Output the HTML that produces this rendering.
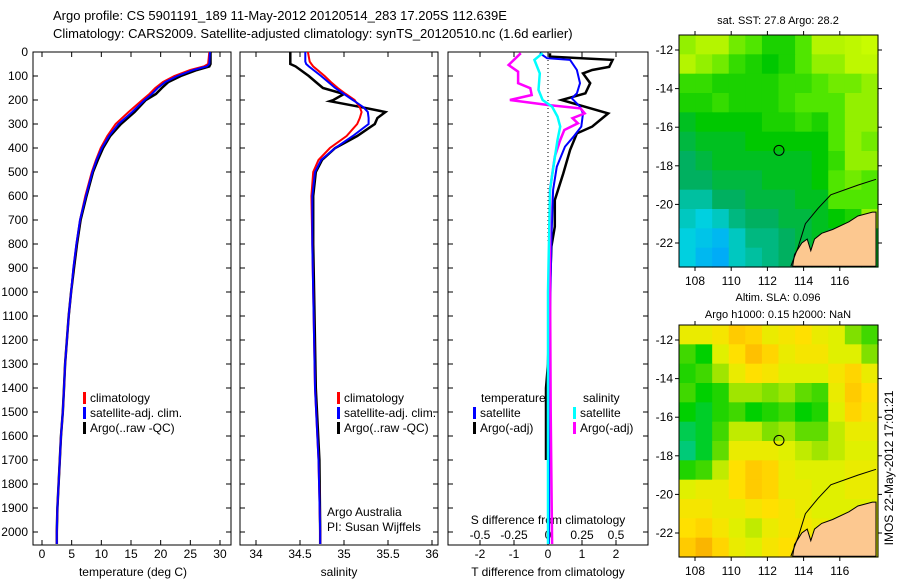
<!DOCTYPE html>
<html><head><meta charset="utf-8"><style>
body{margin:0;background:#fff;}
svg{display:block;font-family:"Liberation Sans",sans-serif;font-size:12px;}
</style></head><body>
<svg id="c" width="900" height="580" viewBox="0 0 900 580">
<text x="53" y="20" font-size="13">Argo profile: CS 5901191_189 11-May-2012 20120514_283 17.205S 112.639E</text>
<text x="53" y="38" font-size="13">Climatology: CARS2009. Satellite-adjusted climatology: synTS_20120510.nc (1.6d earlier)</text>
</svg>
<script>
// ---------- data ----------
const depthTicks=[0,100,200,300,400,500,600,700,800,900,1000,1100,1200,1300,1400,1500,1600,1700,1800,1900,2000];
const tempTicks=[0,5,10,15,20,25,30];
const salTicks=[34,34.5,35,35.5,36];
const tdTicks=[-2,-1,0,1,2];
const sdTickLabels=["-0.5","-0.25","0","0.25","0.5"];
const sdTicks=[-0.5,-0.25,0,0.25,0.5];
const zT=[0,50,60,75,100,125,150,175,200,250,300,350,400,450,500,600,700,800,900,1000,1100,1200,1300,1400,1500,1600,1700,1800,1900,2000,2050];
const tempClim=[28.2,28.0,27.3,25,22.3,20.4,19.1,18.1,16.9,14.6,12.4,11.0,9.9,9.1,8.4,7.3,6.4,5.8,5.3,4.9,4.5,4.2,3.9,3.7,3.5,3.2,3.0,2.8,2.6,2.5,2.5];
const tempSat=[28.3,28.2,27.8,25.5,22.8,20.8,19.5,18.5,17.3,15.2,12.9,11.3,10.1,9.2,8.5,7.4,6.4,5.8,5.3,4.9,4.5,4.2,3.9,3.7,3.5,3.2,3.0,2.8,2.6,2.5,2.5];
const tempArgo=[28.4,28.4,28.2,26.1,23.4,21.3,20.2,19.2,17.5,15.6,13.3,11.5,10.3,9.4,8.6,7.5,6.5,5.9,5.4,4.9,4.5,4.2,3.9,3.7,3.5,3.2,3.0,2.8,2.6,2.5,2.5];
const zS=[0,40,50,60,100,125,150,175,200,205,230,250,275,300,350,400,450,500,600,800,1000,1400,1700,2000,2050];
const salClim=[34.59,34.61,34.63,34.65,34.78,34.85,34.93,35.02,35.12,35.13,35.18,35.2,35.18,35.15,35.03,34.84,34.71,34.65,34.63,34.64,34.65,34.67,34.71,34.73,34.73];
const salSat=[34.56,34.56,34.57,34.6,34.74,34.82,34.9,35.0,35.1,35.12,35.22,35.27,35.28,35.28,35.1,34.9,34.74,34.67,34.64,34.64,34.65,34.67,34.71,34.73,34.73];
const salArgo=[34.39,34.39,34.39,34.45,34.6,34.68,34.76,35.0,34.88,34.84,35.2,35.47,35.38,35.35,35.15,34.9,34.75,34.68,34.65,34.65,34.66,34.68,34.72,34.73,34.73];
const zTdArgo=[5,19,33,62,75,89,130,172,200,214,256,311,339,408,506,617,728,811,1000,1300,1400,1700];
const tdArgo=[0.06,0.06,1.9,1.8,1.3,1.03,1.24,1.1,0.4,0.75,1.77,1.3,0.85,0.65,0.45,0.2,0.2,0.1,0.05,0.0,-0.06,-0.06];
const zTdSat=[5,26,33,75,130,172,193,228,256,311,353,394,478,575,783,1200,2050];
const tdSat=[-0.24,-0.03,0.65,0.85,0.94,0.85,0.7,0.94,1.03,0.98,0.75,0.5,0.26,0.15,0.1,0.05,0.03];
const zSdArgo=[5,54,82,130,151,179,200,221,235,256,276,297,325,367,436,575,922,1500,2050];
const sdArgo=[-0.2,-0.29,-0.22,-0.22,-0.13,-0.12,-0.28,0,0.24,0.27,0.18,0.22,0.12,0.09,0.05,0.015,0.015,0.02,0.03];
const zSdSat=[5,33,89,158,200,228,269,311,367,478,575,1000,2050];
const sdSat=[-0.04,-0.1,-0.06,-0.07,-0.04,0.03,0.07,0.09,0.07,0.04,0.015,0.0,0.0];
const sstGrid=[
[0.8,0.85,0.85,0.75,0.7,0.6,0.6,0.7,0.85,0.85,0.9,0.95],
[0.85,0.8,0.75,0.65,0.6,0.55,0.6,0.7,0.8,0.8,0.9,0.9],
[0.65,0.65,0.6,0.6,0.6,0.6,0.65,0.65,0.7,0.75,0.75,0.8],
[0.6,0.6,0.65,0.6,0.6,0.6,0.65,0.7,0.7,0.7,0.8,0.8],
[0.5,0.55,0.55,0.55,0.55,0.6,0.6,0.65,0.6,0.7,0.8,0.8],
[0.45,0.5,0.5,0.5,0.55,0.55,0.55,0.55,0.55,0.7,0.8,0.75],
[0.4,0.45,0.5,0.5,0.5,0.5,0.5,0.5,0.55,0.65,0.8,0.8],
[0.4,0.4,0.45,0.45,0.45,0.5,0.5,0.5,0.55,0.7,0.75,0.7],
[0.3,0.3,0.4,0.4,0.45,0.45,0.45,0.5,0.5,0.7,0.7,0.7],
[0.25,0.2,0.25,0.35,0.4,0.4,0.45,0.45,0.5,0.55,0.6,0.8],
[0.2,0.15,0.1,0.25,0.35,0.35,0.4,0.45,0.5,0.45,0.5,0.5],
[0.2,0.1,0.05,0.25,0.3,0.35,0.4,0.5,0.5,0.5,0.5,0.5]];
const slaGrid=[
[0.6,0.6,0.65,0.8,0.75,0.6,0.65,0.7,0.6,0.55,0.4,0.3],
[0.3,0.2,0.55,0.7,0.85,0.75,0.6,0.65,0.65,0.55,0.55,0.4],
[0.25,0.3,0.45,0.6,0.7,0.65,0.55,0.55,0.55,0.65,0.75,0.6],
[0.3,0.2,0.25,0.45,0.45,0.4,0.45,0.35,0.3,0.6,0.8,0.7],
[0.2,0.15,0.25,0.3,0.2,0.25,0.3,0.2,0.25,0.55,0.75,0.65],
[0.1,0.15,0.3,0.5,0.5,0.4,0.45,0.35,0.35,0.5,0.6,0.6],
[0.05,0.15,0.35,0.6,0.6,0.6,0.55,0.5,0.45,0.5,0.55,0.55],
[0.25,0.3,0.5,0.7,0.8,0.75,0.6,0.55,0.55,0.55,0.6,0.6],
[0.55,0.6,0.6,0.7,0.8,0.75,0.6,0.6,0.55,0.55,0.6,0.6],
[0.65,0.65,0.6,0.6,0.65,0.7,0.65,0.6,0.55,0.55,0.55,0.55],
[0.7,0.75,0.65,0.55,0.5,0.6,0.65,0.65,0.6,0.55,0.55,0.55],
[0.8,0.9,0.75,0.6,0.55,0.65,0.7,0.8,0.6,0.55,0.55,0.55]];
const lonTicks=[108,110,112,114,116];
const latTicks=[-12,-14,-16,-18,-20,-22];
const landLon=[113.4,113.5,113.9,114.2,114.4,114.6,115,115.6,116.5,117,117.8,118,118];
const landLat=[-23.2,-22.6,-22.0,-21.8,-22.4,-21.8,-21.5,-21.3,-20.9,-20.6,-20.4,-20.4,-23.2];
const shelfLon=[113.3,113.7,114.1,114.8,115.5,117,118];
const shelfLat=[-23.2,-22.2,-21.0,-20.2,-19.5,-19.0,-18.7];
const argoPos=[112.64,-17.2];

// ---------- helpers ----------
const NS="http://www.w3.org/2000/svg";
const svg=document.getElementById('c');
function mk(tag,attrs,parent){const e=document.createElementNS(NS,tag);for(const k in attrs)e.setAttribute(k,attrs[k]);(parent||svg).appendChild(e);return e;}
const Y0=52,PXM=0.24;
const yD=d=>Y0+d*PXM;
const xTemp=v=>42+v*5.933;
const xSal=v=>256+(v-34)*88;
const xTd=v=>548+v*34;
const xSd=v=>548+v*136;

function frame(x1,x2,name){
  const r=mk('rect',{x:x1,y:52,width:x2-x1,height:493,fill:'none',stroke:'#000','stroke-width':1});
  
  
}
function line(xs,zs,fx,color,w,name){
  const p=mk('polyline',{points:xs.map((v,i)=>fx(v).toFixed(1)+','+yD(zs[i]).toFixed(1)).join(' '),fill:'none',stroke:color,'stroke-width':w,'stroke-linejoin':'miter'});
  
  
}
function txt(x,y,s,name,anchor,size){
  const t=mk('text',{x:x,y:y,'text-anchor':anchor||'start'});
  if(size)t.setAttribute('font-size',size);
  t.textContent=s;
  
  
  return t;
}
function xticks(vals,fx,labels,ly,name){
  vals.forEach((v,i)=>{
    const x=fx(v);
    mk('line',{x1:x,x2:x,y1:52,y2:57,stroke:'#000'});
    mk('line',{x1:x,x2:x,y1:540,y2:545,stroke:'#000'});
    if(ly) txt(x,ly,labels[i],name,'middle');
  });
}

// ---------- panel 1: temperature ----------
frame(33,231,'temperature-panel');
depthTicks.forEach(d=>{
  mk('line',{x1:33,x2:38,y1:yD(d),y2:yD(d),stroke:'#000'});
  mk('line',{x1:226,x2:231,y1:yD(d),y2:yD(d),stroke:'#000'});
  txt(28,yD(d)+4,String(d),'depth-tick-label','end');
});
xticks(tempTicks,xTemp,tempTicks.map(String),558,'temperature-tick-label');
txt(133,576,'temperature (deg C)','temperature-axis-title','middle');
line(tempArgo,zT,xTemp,'#000',2.5,'temp-argo-line');
line(tempClim,zT,xTemp,'#f00',2,'temp-climatology-line');
line(tempSat,zT,xTemp,'#00f',2,'temp-satellite-line');

// ---------- panel 2: salinity ----------
frame(240,438,'salinity-panel');
depthTicks.forEach(d=>{
  mk('line',{x1:240,x2:245,y1:yD(d),y2:yD(d),stroke:'#000'});
  mk('line',{x1:433,x2:438,y1:yD(d),y2:yD(d),stroke:'#000'});
});
xticks(salTicks,xSal,salTicks.map(String),558,'salinity-tick-label');
txt(339,576,'salinity','salinity-axis-title','middle');
line(salArgo,zS,xSal,'#000',2.5,'sal-argo-line');
line(salClim,zS,xSal,'#f00',2,'sal-climatology-line');
line(salSat,zS,xSal,'#00f',2,'sal-satellite-line');
txt(327,516,'Argo Australia','institution-label');
txt(327,531,'PI: Susan Wijffels','pi-label');

// ---------- panel 3: differences ----------
frame(448,648,'difference-panel');
depthTicks.forEach(d=>{
  mk('line',{x1:448,x2:453,y1:yD(d),y2:yD(d),stroke:'#000'});
  mk('line',{x1:643,x2:648,y1:yD(d),y2:yD(d),stroke:'#000'});
});
xticks(tdTicks,xTd,tdTicks.map(String),558,'t-diff-tick-label');
sdTicks.forEach((v,i)=>txt(xSd(v),539,sdTickLabels[i],'s-diff-tick-label','middle'));
txt(548,524,'S difference from climatology','s-diff-axis-title','middle');
txt(548,576,'T difference from climatology','t-diff-axis-title','middle');
mk('line',{x1:548,x2:548,y1:52,y2:243,stroke:'#000','stroke-dasharray':'1,3'});
line(tdArgo,zTdArgo,xTd,'#000',2.5,'t-diff-argo-line');
line(tdSat,zTdSat,xTd,'#00f',2,'t-diff-satellite-line');
line(sdArgo,zSdArgo,xSd,'#f0f',2.5,'s-diff-argo-line');
line(sdSat,zSdSat,xSd,'#0ff',2.5,'s-diff-satellite-line');

// legends
function legend(x,y,color,label,name){
  mk('rect',{x:x,y:y-10,width:3,height:12,fill:color});
  txt(x+7,y,label,name);
}
legend(83,402,'#f00','climatology','legend-climatology-temp');
legend(83,417,'#00f','satellite-adj. clim.','legend-satellite-temp');
legend(83,432,'#000','Argo(..raw -QC)','legend-argo-temp');
legend(337,402,'#f00','climatology','legend-climatology-sal');
legend(337,417,'#00f','satellite-adj. clim.','legend-satellite-sal');
legend(337,432,'#000','Argo(..raw -QC)','legend-argo-sal');
txt(481,402,'temperature','legend-temperature-heading');
txt(583,402,'salinity','legend-salinity-heading');
legend(473,417,'#00f','satellite','legend-t-satellite');
legend(473,432,'#000','Argo(-adj)','legend-t-argo');
legend(573,417,'#0ff','satellite','legend-s-satellite');
legend(573,432,'#f0f','Argo(-adj)','legend-s-argo');

// ---------- maps ----------
const sstStops=[[0,[0,160,255]],[0.2,[0,208,224]],[0.4,[0,176,96]],[0.55,[0,200,0]],[0.7,[80,230,0]],[0.85,[180,245,0]],[1,[210,255,0]]];
const slaStops=[[0,[0,200,160]],[0.2,[0,208,0]],[0.4,[128,224,0]],[0.55,[224,240,0]],[0.7,[255,224,0]],[0.85,[255,192,0]],[1,[240,160,0]]];
function cmap(stops,v){
  for(let i=1;i<stops.length;i++){if(v<=stops[i][0]){const a=stops[i-1],b=stops[i];const t=(v-a[0])/(b[0]-a[0]);
    return 'rgb('+a[1].map((c,k)=>Math.round(c+(b[1][k]-c)*t)).join(',')+')';}}
  return 'rgb('+stops[stops.length-1][1].join(',')+')';
}
function drawMap(top,grid,stops,name){
  const L=679,R=878,T=top,B=top+232;
  const lonX=lo=>695+(lo-108)*18.1;
  const latY=la=>T+15+(-12-la)*19.3;
  const cw=(R-L)/grid[0].length,ch=(B-T)/grid.length;
  grid.forEach((row,r)=>row.forEach((v,c)=>{
    const cell=mk('rect',{x:(L+c*cw).toFixed(2),y:(T+r*ch).toFixed(2),width:(cw+0.6).toFixed(2),height:(ch+0.6).toFixed(2),fill:cmap(stops,v)});
    
    
  }));
  const land=mk('polygon',{points:landLon.map((lo,i)=>lonX(lo).toFixed(1)+','+latY(landLat[i]).toFixed(1)).join(' '),fill:'#fcc890',stroke:'#000','stroke-width':1});
  
  
  const sh=mk('polyline',{points:shelfLon.map((lo,i)=>lonX(lo).toFixed(1)+','+latY(shelfLat[i]).toFixed(1)).join(' '),fill:'none',stroke:'#000','stroke-width':1});
  
  
  const circ=mk('circle',{cx:lonX(argoPos[0]),cy:latY(argoPos[1]),r:5,fill:'none',stroke:'#000','stroke-width':1});
  
  
  const fr=mk('rect',{x:L,y:T,width:R-L,height:B-T,fill:'none',stroke:'#000'});
  
  
  lonTicks.forEach(lo=>{const x=lonX(lo);
    mk('line',{x1:x,x2:x,y1:T-4,y2:T,stroke:'#000'});
    mk('line',{x1:x,x2:x,y1:B,y2:B+4,stroke:'#000'});
    txt(x,B+18,String(lo),name+'-lon-label','middle');});
  latTicks.forEach(la=>{const y=latY(la);
    mk('line',{x1:L-4,x2:L,y1:y,y2:y,stroke:'#000'});
    mk('line',{x1:R,x2:R+4,y1:y,y2:y,stroke:'#000'});
    txt(L-6,y+4,String(la),name+'-lat-label','end');});
}
drawMap(35,sstGrid,sstStops,'sst-map');
txt(778,24,'sat. SST: 27.8 Argo: 28.2','sst-map-title','middle',11);
drawMap(325,slaGrid,slaStops,'sla-map');
txt(778,301,'Altim. SLA: 0.096','sla-map-title','middle',11);
txt(778,318,'Argo h1000: 0.15 h2000: NaN','sla-map-subtitle','middle',11);
const side=txt(0,0,'IMOS 22-May-2012 17:01:21','timestamp-label','middle');
side.setAttribute('transform','translate(893,468) rotate(-90)');
</script>
</body></html>
